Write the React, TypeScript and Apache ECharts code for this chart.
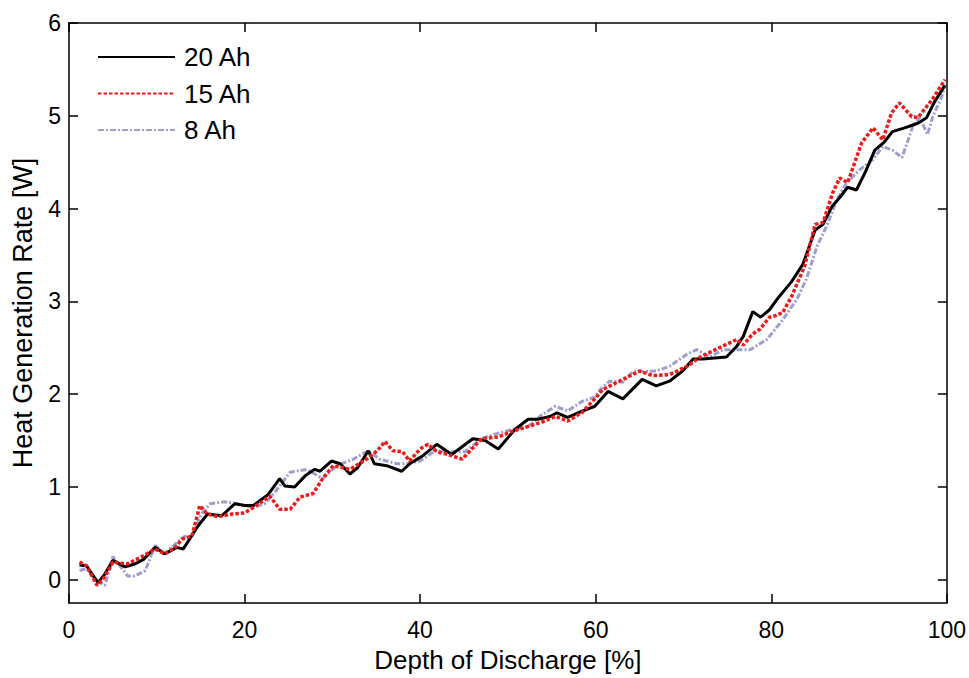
import React, { useEffect, useRef } from "react";
import * as echarts from "echarts";

const xTicks = [0, 20, 40, 60, 80, 100];
const yTicks = [0, 1, 2, 3, 4, 5, 6];
const seriesNames = ["20 Ah", "15 Ah", "8 Ah"];

const ah20: [number, number][] = [
  [1.2, 0.16], [2, 0.15], [3.3, -0.03], [4, 0.05], [5, 0.21], [6.4, 0.14], [7.5, 0.17], [8.5, 0.22],
  [9.8, 0.35], [10.9, 0.28], [12.3, 0.35], [13, 0.33], [14.7, 0.58], [15.8, 0.71], [17.4, 0.69],
  [18.9, 0.82], [20, 0.8], [21, 0.8], [22.7, 0.92], [24, 1.09], [24.6, 1.01], [25.7, 1.0],
  [26.9, 1.12], [28, 1.19], [28.6, 1.17], [29.9, 1.28], [30.9, 1.25], [32, 1.14], [32.9, 1.21],
  [34.1, 1.39], [34.8, 1.25], [36.2, 1.23], [37.9, 1.17], [38.8, 1.25], [40.2, 1.33], [41.9, 1.46],
  [43.6, 1.35], [46, 1.52], [47.4, 1.5], [48.9, 1.41], [50.8, 1.62], [52.3, 1.73], [53.4, 1.73],
  [54.8, 1.76], [55.6, 1.8], [56.8, 1.75], [58, 1.8], [59.9, 1.87], [61.4, 2.03], [63.1, 1.95],
  [65.3, 2.16], [66.9, 2.09], [68.4, 2.14], [69.9, 2.25], [71.1, 2.38], [72.2, 2.38], [74.9, 2.4],
  [76.1, 2.52], [76.8, 2.62], [77.9, 2.89], [78.8, 2.83], [79.8, 2.91], [80.8, 3.04], [82.3, 3.21],
  [83.6, 3.4], [85, 3.77], [85.9, 3.83], [86.9, 4.02], [87.8, 4.12], [88.7, 4.23], [89.7, 4.2],
  [90.7, 4.39], [91.8, 4.63], [92.9, 4.72], [93.8, 4.83], [95.2, 4.87], [96.7, 4.92], [97.7, 4.98],
  [98.6, 5.15], [99.8, 5.33],
];

const ah15: [number, number][] = [
  [1.2, 0.19], [2, 0.15], [3.2, -0.06], [3.9, 0.01], [5, 0.19], [6.6, 0.17], [8.3, 0.25], [9.8, 0.33],
  [10.9, 0.28], [12.1, 0.35], [12.9, 0.44], [14, 0.47], [14.9, 0.8], [15.7, 0.71], [17, 0.68],
  [18.6, 0.71], [20, 0.72], [21, 0.78], [22.9, 0.9], [24, 0.76], [25.2, 0.76], [26.3, 0.89],
  [27.8, 0.93], [28.9, 1.09], [30.1, 1.23], [32, 1.19], [33.9, 1.3], [35.1, 1.39], [36, 1.49],
  [36.9, 1.39], [38, 1.38], [38.8, 1.28], [40, 1.41], [40.9, 1.46], [41.9, 1.38], [43.2, 1.35],
  [44.8, 1.3], [47, 1.52], [48.9, 1.54], [50.5, 1.6], [51.9, 1.64], [53.9, 1.7], [55.4, 1.76],
  [56.8, 1.71], [58.4, 1.8], [59.9, 1.95], [60.8, 2.05], [63.1, 2.16], [65, 2.25], [66.5, 2.2],
  [68.4, 2.21], [70.4, 2.3], [71.9, 2.4], [74.5, 2.52], [76.1, 2.59], [76.8, 2.53], [77.9, 2.65],
  [78.7, 2.7], [79.8, 2.83], [80.6, 2.85], [81.3, 2.88], [82.3, 3.05], [83.8, 3.38], [85, 3.83],
  [85.9, 3.85], [87, 4.17], [87.8, 4.33], [88.7, 4.28], [90.3, 4.71], [91.6, 4.87], [92.7, 4.74],
  [93.7, 5.03], [94.6, 5.14], [96, 4.99], [96.7, 4.98], [98.3, 5.17], [99.8, 5.39],
];

const ah8: [number, number][] = [
  [1.2, 0.1], [2, 0.12], [3, 0.0], [4.1, -0.06], [5, 0.25], [6.7, 0.04], [7.5, 0.04], [8.7, 0.1],
  [9.8, 0.37], [10.9, 0.28], [12.4, 0.41], [13.2, 0.47], [14, 0.47], [15.1, 0.71], [16.1, 0.82],
  [17.8, 0.84], [19.2, 0.82], [21, 0.78], [22.3, 0.82], [23.5, 0.95], [25.2, 1.16], [27.1, 1.19],
  [28.9, 1.09], [30.5, 1.23], [32.4, 1.3], [34.1, 1.39], [35.4, 1.3], [37.4, 1.25], [38.5, 1.25],
  [40, 1.28], [41.7, 1.39], [43.2, 1.38], [45.1, 1.38], [47, 1.52], [48.5, 1.57], [50.5, 1.62],
  [52.3, 1.65], [53.9, 1.78], [55.4, 1.87], [56.8, 1.82], [58.4, 1.92], [59.9, 1.97], [60.5, 2.05],
  [61.6, 2.14], [63.1, 2.13], [64.2, 2.24], [66.9, 2.25], [68.4, 2.3], [70.4, 2.43], [71.5, 2.48],
  [73, 2.4], [74.5, 2.48], [76.1, 2.48], [77.6, 2.48], [79.5, 2.59], [81.3, 2.8], [82.9, 3.02],
  [84, 3.24], [85.2, 3.59], [86.3, 3.81], [87.5, 4.1], [88.6, 4.28], [90.1, 4.42], [91.6, 4.53],
  [92.7, 4.67], [93.8, 4.63], [94.9, 4.55], [96.1, 4.88], [96.9, 4.98], [97.8, 4.8], [98.4, 4.99],
  [99.4, 5.2], [99.8, 5.33],
];

const FONT = "Liberation Sans, Arial, sans-serif";

export default function App() {
  const ref = useRef<HTMLDivElement>(null);
  useEffect(() => {
    if (!ref.current) return;
    const chart = echarts.init(ref.current, null, { renderer: "svg" });
    const axisLine = { show: true, onZero: false, lineStyle: { color: "#000", width: 1.5 } };
    const tick = (vals: number[]) => ({
      show: true,
      inside: true,
      length: 9,
      customValues: vals,
      lineStyle: { color: "#000", width: 1.5 },
    });
    chart.setOption({
      animation: false,
      backgroundColor: "#fff",
      grid: { left: 69, right: 22, top: 23, bottom: 74 },
      legend: {
        orient: "vertical",
        left: 92,
        top: 39,
        itemWidth: 77,
        itemHeight: 14,
        itemGap: 10.5,
        data: seriesNames,
        itemStyle: { opacity: 0 },
        textStyle: { fontFamily: FONT, fontSize: 26, color: "#000", padding: [0, 0, 0, 4] },
      },
      xAxis: [
        {
          type: "value",
          min: 0,
          max: 100,
          position: "bottom",
          axisLine,
          axisTick: tick(xTicks),
          splitLine: { show: false },
          axisLabel: { customValues: xTicks, fontFamily: FONT, fontSize: 23, color: "#000", margin: 15 },
          name: "Depth of Discharge [%]",
          nameLocation: "middle",
          nameGap: 44,
          nameTextStyle: { fontFamily: FONT, fontSize: 26, color: "#000" },
        },
        {
          type: "value",
          min: 0,
          max: 100,
          position: "top",
          axisLine,
          axisTick: tick(xTicks),
          splitLine: { show: false },
          axisLabel: { show: false },
        },
      ],
      yAxis: [
        {
          type: "value",
          min: -0.25,
          max: 6,
          position: "left",
          axisLine,
          axisTick: tick(yTicks),
          splitLine: { show: false },
          axisLabel: { customValues: yTicks, fontFamily: FONT, fontSize: 23, color: "#000", margin: 8 },
          name: "Heat Generation Rate [W]",
          nameLocation: "middle",
          nameGap: 33,
          nameTextStyle: { fontFamily: FONT, fontSize: 27, color: "#000" },
        },
        {
          type: "value",
          min: -0.25,
          max: 6,
          position: "right",
          axisLine,
          axisTick: tick(yTicks),
          splitLine: { show: false },
          axisLabel: { show: false },
        },
      ],
      series: [
        {
          name: "8 Ah",
          type: "line",
          data: ah8,
          symbol: "none",
          z: 2,
          itemStyle: { color: "#8e8ec4" },
          lineStyle: { color: "#8e8ec4", width: 3, type: [6, 2, 2, 2], opacity: 0.85 },
        },
        {
          name: "20 Ah",
          type: "line",
          data: ah20,
          symbol: "none",
          z: 3,
          itemStyle: { color: "#000" },
          lineStyle: { color: "#000", width: 3 },
        },
        {
          name: "15 Ah",
          type: "line",
          data: ah15,
          symbol: "none",
          z: 4,
          itemStyle: { color: "#f01818" },
          lineStyle: { color: "#f01818", width: 3.5, type: [3.5, 2] },
        },
      ],
    });
    return () => chart.dispose();
  }, []);
  return <div ref={ref} style={{ width: 969, height: 678, position: "absolute", left: 0, top: 0 }} />;
}
